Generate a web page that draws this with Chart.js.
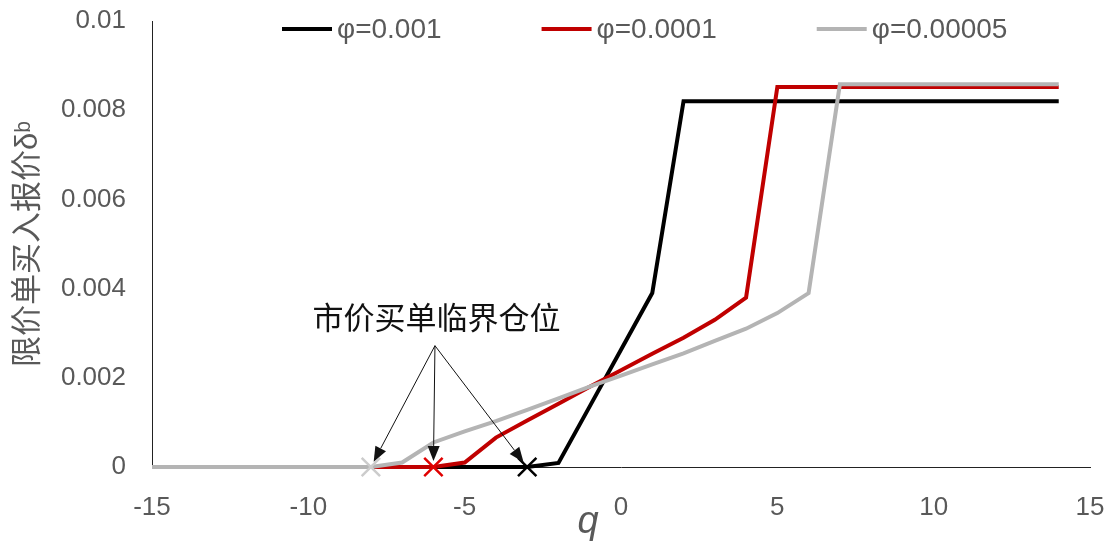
<!DOCTYPE html>
<html>
<head>
<meta charset="utf-8">
<script src="https://cdn.jsdelivr.net/npm/chart.js@4.4.1/dist/chart.umd.min.js"></script>
<style>
  html, body { margin: 0; padding: 0; background: #fff; }
  #wrap { width: 1113px; height: 546px; position: relative; }
</style>
</head>
<body>
<div id="wrap"><canvas id="chartJScanvas"></canvas></div>
<script>
  // q positions
  var qValues = [-15, -14, -13, -12, -11, -10, -9, -8, -7, -6, -5, -4, -3, -2, -1,
                 0, 1, 2, 3, 4, 5, 6, 7, 8, 9, 10, 11, 12, 13, 14];

  var seriesNames = ['φ=0.001', 'φ=0.0001', 'φ=0.00005'];

  // phi = 0.001
  var bidBlack = [0, 0, 0, 0, 0, 0, 0, 0, 0, 0, 0, 0, 0, 0.00009, 0.00136,
                  0.00263, 0.0039, 0.0082, 0.0082, 0.0082, 0.0082, 0.0082, 0.0082, 0.0082, 0.0082,
                  0.0082, 0.0082, 0.0082, 0.0082, 0.0082];
  // phi = 0.0001
  var bidRed = [0, 0, 0, 0, 0, 0, 0, 0, 0, 0, 0.0001, 0.00066, 0.00104, 0.00142, 0.0018,
                0.00217, 0.00254, 0.0029, 0.0033, 0.0038, 0.00852, 0.00852, 0.00852, 0.00852, 0.00852,
                0.00852, 0.00852, 0.00852, 0.00852, 0.00852];
  // phi = 0.00005
  var bidGrey = [0, 0, 0, 0, 0, 0, 0, 0, 0.0001, 0.00055, 0.0008, 0.00103, 0.00128, 0.00154, 0.0018,
                 0.00205, 0.0023, 0.00255, 0.00283, 0.0031, 0.00345, 0.0039, 0.00858, 0.00858, 0.00858,
                 0.00858, 0.00858, 0.00858, 0.00858, 0.00858];

  // critical market-buy positions (black, red, grey)
  var criticalQ = [-3, -6, -8];

  var xTickValues = [-15, -10, -5, 0, 5, 10, 15];
  var yTickValues = [0, 0.002, 0.004, 0.006, 0.008, 0.01];
  var yTickLabels = ['0', '0.002', '0.004', '0.006', '0.008', '0.01'];

  var calloutText = '市价买单临界仓位';
  var xTitle = 'q';
  var yTitle = '限价单买入报价δᵇ';

  var lineColors = ['#000000', '#c00000', '#b4b4b4'];
  var markColors = ['#000000', '#e00000', '#cccccc'];
  var textGrey = '#595959';
  var baseFont = '"Liberation Sans", "Noto Sans CJK SC", sans-serif';

  function pairs(ys) {
    var out = [];
    for (var i = 0; i < qValues.length; i++) out.push({x: qValues[i], y: ys[i]});
    return out;
  }

  var lineData = [bidBlack, bidRed, bidGrey];
  var datasets = [];
  for (var i = 0; i < 3; i++) {
    datasets.push({
      label: seriesNames[i],
      data: pairs(lineData[i]),
      borderColor: lineColors[i],
      backgroundColor: lineColors[i],
      borderWidth: 4,
      pointRadius: 0,
      tension: 0,
      clip: false,
      order: 3 - i
    });
  }
  for (var j = 0; j < 3; j++) {
    datasets.push({
      label: 'mark' + j,
      data: [{x: criticalQ[j], y: 0}],
      showLine: false,
      pointStyle: 'crossRot',
      pointRadius: 13,
      pointBorderWidth: 2.5,
      pointBorderColor: markColors[j],
      borderColor: markColors[j],
      clip: false,
      order: 0
    });
  }

  // legend, callout and x title drawn on top
  var extras = {
    id: 'extras',
    afterDraw: function(chart) {
      var ctx = chart.ctx;
      var xs = chart.scales.x, ys = chart.scales.y;
      ctx.save();

      // legend
      ctx.font = '28px ' + baseFont;
      ctx.textBaseline = 'middle';
      ctx.textAlign = 'left';
      var lx = 282, ly = 29;
      for (var i = 0; i < 3; i++) {
        ctx.strokeStyle = lineColors[i];
        ctx.lineWidth = 4;
        ctx.beginPath();
        ctx.moveTo(lx, ly);
        ctx.lineTo(lx + 50, ly);
        ctx.stroke();
        lx += 55;
        ctx.fillStyle = textGrey;
        ctx.fillText(seriesNames[i], lx, ly + 1);
        lx += ctx.measureText(seriesNames[i]).width + 100;
      }

      // callout text
      ctx.font = '31px "Noto Sans CJK SC", sans-serif';
      ctx.fillStyle = '#111';
      ctx.textAlign = 'center';
      ctx.fillText(calloutText, xs.getPixelForValue(-5.9), ys.getPixelForValue(0.00335));

      // arrows
      var ox = xs.getPixelForValue(-5.95), oy = ys.getPixelForValue(0.00272);
      ctx.strokeStyle = '#111';
      ctx.fillStyle = '#111';
      ctx.lineWidth = 1;
      for (var k = 0; k < criticalQ.length; k++) {
        var tx = xs.getPixelForValue(criticalQ[k]), ty = ys.getPixelForValue(0);
        var dx = tx - ox, dy = ty - oy, len = Math.sqrt(dx * dx + dy * dy);
        var ux = dx / len, uy = dy / len;
        var ex = tx - ux * 6, ey = ty - uy * 6;
        var bx = ex - ux * 15, by = ey - uy * 15;
        ctx.beginPath();
        ctx.moveTo(ox, oy);
        ctx.lineTo(bx, by);
        ctx.stroke();
        ctx.beginPath();
        ctx.moveTo(ex, ey);
        ctx.lineTo(bx - uy * 6, by + ux * 6);
        ctx.lineTo(bx + uy * 6, by - ux * 6);
        ctx.closePath();
        ctx.fill();
      }

      // x axis title
      ctx.font = 'italic 38px ' + baseFont;
      ctx.fillStyle = textGrey;
      ctx.textAlign = 'center';
      ctx.textBaseline = 'alphabetic';
      ctx.fillText(xTitle, xs.getPixelForValue(-1.05), 533);
      ctx.restore();
    }
  };

  var ctx = document.getElementById('chartJScanvas').getContext('2d');
  var chartJSchart = new Chart(ctx, {
    type: 'line',
    data: { datasets: datasets },
    plugins: [extras],
    options: {
      animation: false,
      responsive: true,
      maintainAspectRatio: false,
      devicePixelRatio: 1,
      layout: { padding: { top: 21, right: 23, left: 0, bottom: 0 } },
      plugins: {
        legend: { display: false },
        tooltip: { enabled: false }
      },
      scales: {
        x: {
          type: 'linear',
          min: -15,
          max: 15,
          afterBuildTicks: function(s) { s.ticks = xTickValues.map(function(v) { return {value: v}; }); },
          afterFit: function(s) { s.height = 79; s.paddingLeft = 0; s.paddingRight = 0; },
          grid: { display: false, drawTicks: false },
          border: { display: true, color: '#222', width: 1 },
          ticks: { color: textGrey, font: { family: baseFont, size: 26 }, padding: 25, maxRotation: 0 }
        },
        y: {
          type: 'linear',
          min: 0,
          max: 0.01,
          afterBuildTicks: function(s) { s.ticks = yTickValues.map(function(v) { return {value: v}; }); },
          afterFit: function(s) { s.width = 152; s.paddingTop = 0; s.paddingBottom = 0; },
          grid: { display: false, drawTicks: false },
          border: { display: true, color: '#222', width: 1 },
          ticks: {
            color: textGrey,
            font: { family: baseFont, size: 26 },
            padding: 26,
            callback: function(v, idx) { return yTickLabels[idx]; }
          },
          title: {
            display: true,
            text: yTitle,
            color: textGrey,
            font: { family: baseFont, size: 31 },
            padding: { top: 10, bottom: 0 }
          }
        }
      }
    }
  });
</script>
</body>
</html>
